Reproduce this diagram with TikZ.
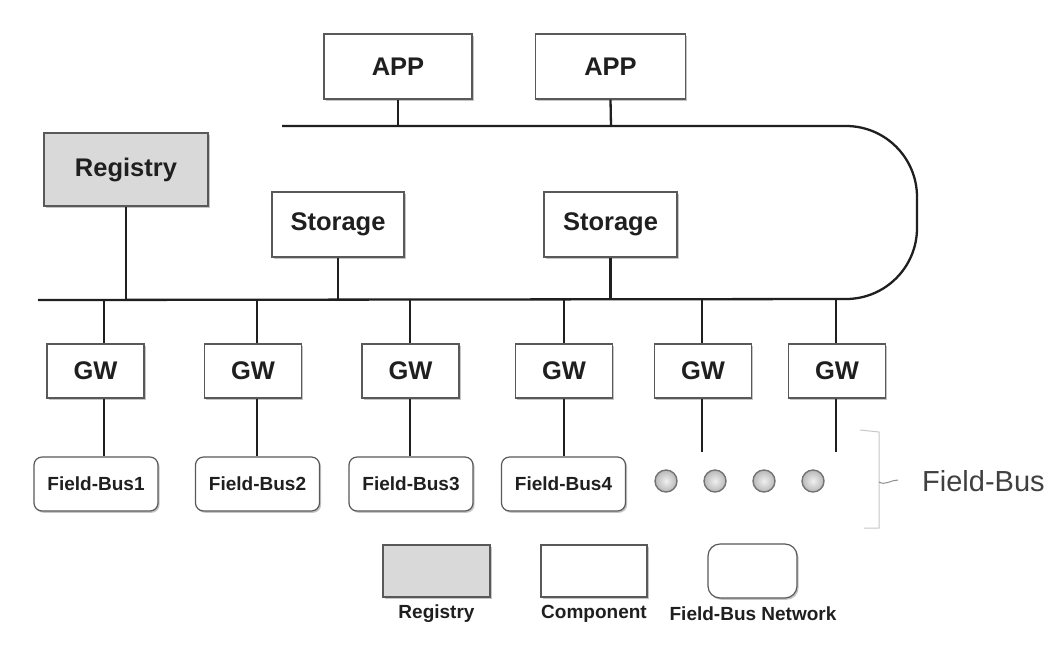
\documentclass[tikz,border=0pt]{standalone}
\usepackage{fontspec}
\setmainfont{Liberation Sans}
\usetikzlibrary{shadows,calc}

\tikzset{
  comp/.style={draw=black!65, line width=1.2pt, fill=white, font=\bfseries\fontsize{25.5}{30}\selectfont,
    text=black!88, inner sep=0pt,
    drop shadow={shadow xshift=1.6pt, shadow yshift=-1.8pt, fill=black!45, opacity=0.5}},
  regbox/.style={comp, fill=black!15},
  gwbox/.style={comp, minimum width=97pt, minimum height=54pt},
  fbbox/.style={comp, rounded corners=8pt, minimum width=124pt, minimum height=54pt,
    font=\bfseries\fontsize{19}{23}\selectfont},
  legbox/.style={comp, minimum width=106pt, minimum height=52pt},
  legtext/.style={font=\bfseries\fontsize{19}{23}\selectfont, text=black!88, inner sep=0pt},
  wire/.style={line width=2.3pt, black!88},
  dev/.style={circle, minimum size=22pt, inner sep=0pt, draw=black!55, line width=1.4pt,
    inner color=black!6, outer color=black!28},
  brace/.style={line width=1pt, black!22}
}

\begin{document}
\begin{tikzpicture}[x=1pt, y=-1pt]
  \fill[white] (0,0) rectangle (1054,657);
  \useasboundingbox (0,0) rectangle (1054,657);

  % applications on the upper bus
  \node[comp, minimum width=148pt, minimum height=65pt] (app1) at (398,66.5) {APP};
  \node[comp, minimum width=150pt, minimum height=65pt] (app2) at (610.5,66.5) {APP};

  % registry and storages on the lower bus
  \node[regbox, minimum width=164pt, minimum height=73pt] (reg) at (126,169.5) {Registry};
  \node[comp, minimum width=132pt, minimum height=65pt] (st1) at (338,224.5) {Storage};
  \node[comp, minimum width=133pt, minimum height=65pt] (st2) at (610.5,224.5) {Storage};

  % gateways
  \node[gwbox] (gw1) at (95.5,371) {GW};
  \node[gwbox] (gw2) at (253,371) {GW};
  \node[gwbox] (gw3) at (410.5,371) {GW};
  \node[gwbox] (gw4) at (564,371) {GW};
  \node[gwbox] (gw5) at (703,371) {GW};
  \node[gwbox] (gw6) at (837,371) {GW};

  % field buses
  \node[fbbox] (fb1) at (96,484) {Field-Bus1};
  \node[fbbox] (fb2) at (257.5,484) {Field-Bus2};
  \node[fbbox] (fb3) at (411,484) {Field-Bus3};
  \node[fbbox] (fb4) at (563.5,484) {Field-Bus4};

  % field devices
  \node[dev] (d1) at (666,481) {};
  \node[dev] (d2) at (715,481) {};
  \node[dev] (d3) at (764,481) {};
  \node[dev] (d4) at (813,481) {};

  % bus taps
  \coordinate (ta1) at (398,126);
  \coordinate (ta2) at (611,126);
  \coordinate (bl) at (38,300);
  \coordinate (tl) at (282,126);
  \coordinate (tr) at (846,126);
  \coordinate (tr1) at (104,300);
  \coordinate (tr2) at (257,300);
  \coordinate (tr3) at (410,300);
  \coordinate (tr4) at (564,300);
  \coordinate (tr5) at (702,300);
  \coordinate (tr6) at (836,300);
  \coordinate (e5) at (702,452);
  \coordinate (e6) at (836,452);

  % the looped bus
  \draw[wire] (tl) -- (tr) arc[start angle=90, end angle=0, radius=71pt]
    -- ++(0,31) arc[start angle=0, end angle=-90, radius=71pt] -- (bl);

  % stems
  \draw[wire] (app1.south) -- (ta1);
  \draw[wire] (app2.south) -- (ta2);
  \draw[wire] (reg.south) -- (reg.south |- bl);
  \draw[wire] (st1.south) -- (st1.south |- bl);
  \draw[wire] (st2.south) -- (st2.south |- bl);
  \draw[wire] (tr1) -- (tr1 |- gw1.north);
  \draw[wire] (tr2) -- (tr2 |- gw2.north);
  \draw[wire] (tr3) -- (tr3 |- gw3.north);
  \draw[wire] (tr4) -- (tr4 |- gw4.north);
  \draw[wire] (tr5) -- (tr5 |- gw5.north);
  \draw[wire] (tr6) -- (tr6 |- gw6.north);
  \draw[wire] (tr1 |- gw1.south) -- (tr1 |- fb1.north);
  \draw[wire] (tr2 |- gw2.south) -- (tr2 |- fb2.north);
  \draw[wire] (tr3 |- gw3.south) -- (tr3 |- fb3.north);
  \draw[wire] (tr4 |- gw4.south) -- (tr4 |- fb4.north);
  \draw[wire] (tr5 |- gw5.south) -- (e5);
  \draw[wire] (tr6 |- gw6.south) -- (e6);

  % field-bus bracket and label
  \coordinate (bt) at (879,432);
  \coordinate (bb) at (879,528);
  \draw[brace] (860,430) -- (bt) -- (bb) -- (864,528);
  \draw[line width=1pt, black!45] (879,482) to[out=-30, in=180] (898,480);
  \node[font=\fontsize{29}{34}\selectfont, text=black!75, anchor=west, inner sep=0pt] (fbl) at (922,481) {Field-Bus};

  % legend
  \node[legbox, fill=black!15, minimum width=107pt] (lreg) at (436.5,571) {};
  \node[legbox] (lcomp) at (594,571) {};
  \node[legbox, rounded corners=12pt, minimum width=89pt, minimum height=54pt] (lfb) at (752.5,571) {};
  \node[legtext] (treg) at (436.5,614) {Registry};
  \node[legtext] (tcomp) at (594,614) {Component};
  \node[legtext] (tfb) at (753,614) {Field-Bus Network};
\end{tikzpicture}
\end{document}
